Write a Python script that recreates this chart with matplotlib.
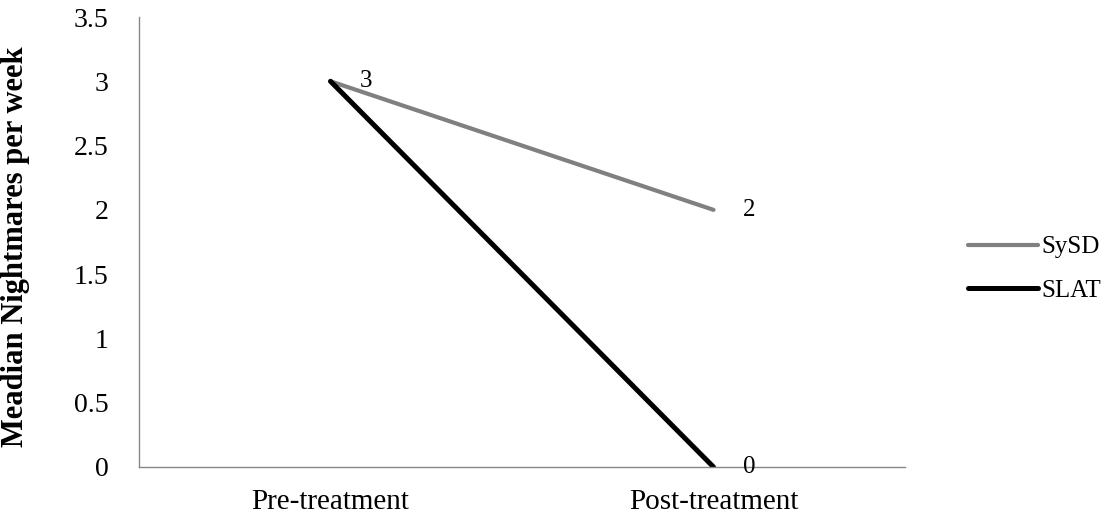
import matplotlib.pyplot as plt

# Median nightmares per week, before and after treatment
phases = ["Pre-treatment", "Post-treatment"]
sysd = [3, 2]
slat = [3, 0]
y_ticks = [0, 0.5, 1, 1.5, 2, 2.5, 3, 3.5]

plt.rcParams["font.family"] = "Liberation Serif"

fig = plt.figure(figsize=(11.11, 5.21), dpi=100)
ax = fig.add_axes([139 / 1111, 54 / 521, 766 / 1111, 450 / 521])

x = range(len(phases))
ax.plot(x, sysd, color="#808080", lw=3, solid_capstyle="round", label="SySD")
ax.plot(x, slat, color="black", lw=3.6, solid_capstyle="round", label="SLAT")

# value labels to the right of the points
for xi, v in [(0, sysd[0]), (1, sysd[1]), (1, slat[1])]:
    ax.annotate(f"{v}", xy=(xi, v), xytext=(21, 0), textcoords="offset points",
                ha="left", va="center", fontsize=18)

ax.set_xlim(-0.5, 1.5)
ax.set_ylim(0, 3.5)
ax.set_xticks(list(x))
ax.set_xticklabels(phases, fontsize=21)
ax.set_yticks(y_ticks)
ax.set_yticklabels([f"{t:g}" for t in y_ticks], fontsize=20)
ax.tick_params(length=0)
ax.tick_params(axis="y", pad=22)
ax.tick_params(axis="x", pad=16)

for side in ["top", "right"]:
    ax.spines[side].set_visible(False)
for side in ["left", "bottom"]:
    ax.spines[side].set_color("#888888")
    ax.spines[side].set_linewidth(1)

ax.set_ylabel("Meadian Nightmares per week", fontsize=22, fontweight="bold")
ax.yaxis.set_label_coords(-0.142, 0.49)

ax.legend(loc="center left", bbox_to_anchor=((945 - 139) / 766, 0.44),
          frameon=False, fontsize=18, handlelength=2.8, handletextpad=0.15,
          labelspacing=0.85)

fig.savefig("out.png", dpi=100)
